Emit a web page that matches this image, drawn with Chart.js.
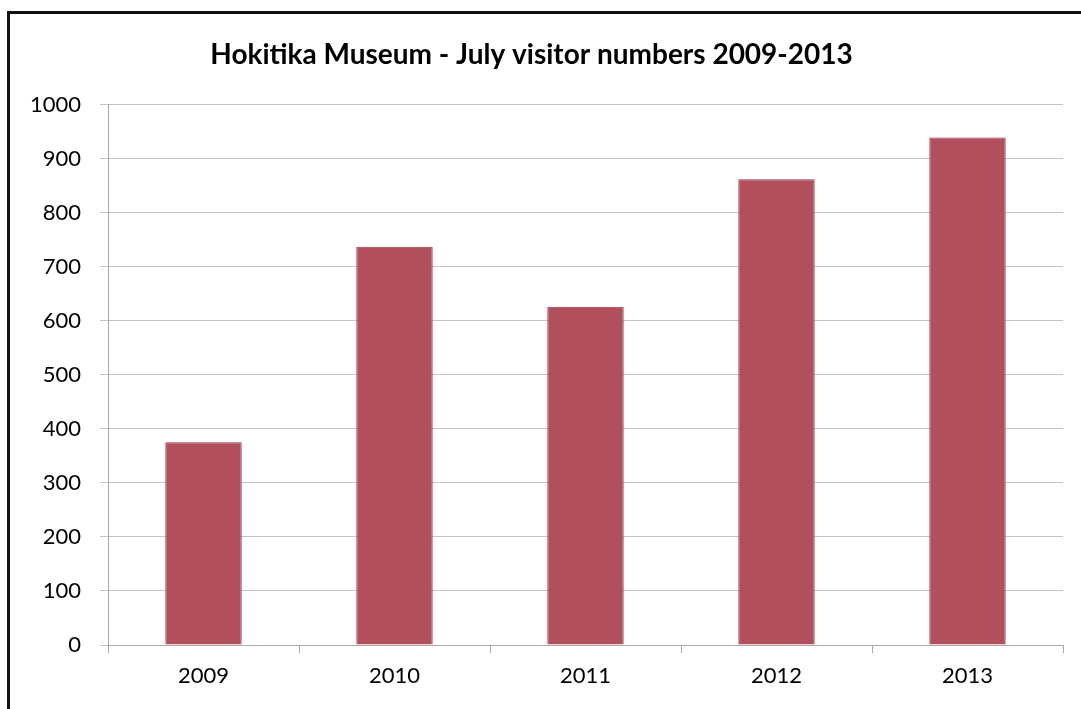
<!DOCTYPE html>
<html>
<head>
<meta charset="utf-8">
<script src="https://cdn.jsdelivr.net/npm/chart.js@4"></script>
<style>
  html, body { margin: 0; padding: 0; background: #fff; }
  #wrap { position: relative; width: 1081px; height: 709px; }
  #frame {
    position: absolute; left: 7px; top: 11px; right: 0; bottom: 0;
    border-left: 3px solid #111; border-top: 3px solid #111;
    pointer-events: none;
  }
</style>
</head>
<body>
<div id="wrap">
  <canvas id="visitorChart" width="1081" height="709"></canvas>
  <div id="frame"></div>
</div>
<script>
// Données
const years = ['2009', '2010', '2011', '2012', '2013'];
const visitors = [375, 737, 626, 862, 939];
const yTicks = [0, 100, 200, 300, 400, 500, 600, 700, 800, 900, 1000];

const ctx = document.getElementById('visitorChart');

new Chart(ctx, {
    type: 'bar',
    data: {
        labels: years,
        datasets: [{
            label: 'Visitors',
            data: visitors,
            backgroundColor: '#B24F5C',
            borderColor: '#8F3C47',
            borderWidth: 1,
            barPercentage: 0.4,
            categoryPercentage: 1.0
        }]
    },
    options: {
        responsive: false,
        animation: false,
        layout: { padding: { left: 0, right: 18, top: 0, bottom: 0 } },
        plugins: {
            legend: { display: false },
            tooltip: { enabled: false },
            title: {
                display: true,
                text: 'Hokitika Museum - July visitor numbers 2009-2013',
                color: '#000',
                font: { family: 'Lato', size: 28, weight: 'bold' },
                padding: { top: 38, bottom: 33 }
            }
        },
        scales: {
            x: {
                grid: {
                    offset: true,
                    drawOnChartArea: false,
                    color: '#aaa',
                    tickLength: 8
                },
                border: { color: '#aaa' },
                ticks: {
                    color: '#000',
                    font: { family: 'Lato', size: 22 },
                    padding: 10
                },
                afterFit: (scale) => { scale.height = 64; }
            },
            y: {
                min: 0,
                max: 1000,
                afterBuildTicks: (scale) => {
                    scale.ticks = yTicks.map(v => ({ value: v }));
                },
                grid: { color: '#c4c4c4', tickLength: 8 },
                border: { color: '#aaa' },
                ticks: {
                    color: '#000',
                    font: { family: 'Lato', size: 22 },
                    padding: 19,
                    callback: (value) => String(value)
                },
                afterFit: (scale) => { scale.width = 108; }
            }
        }
    }
});
</script>
</body>
</html>
